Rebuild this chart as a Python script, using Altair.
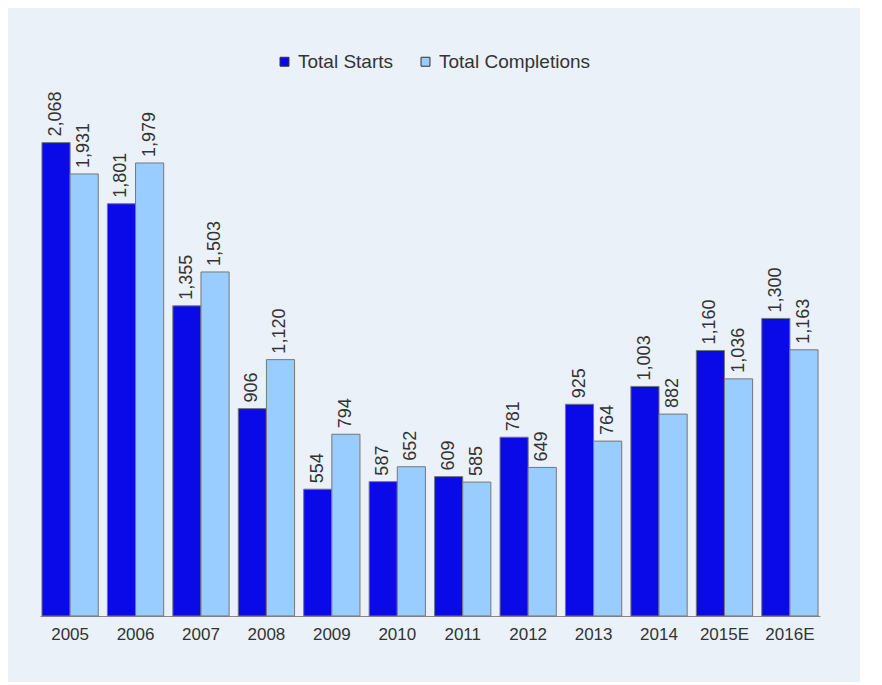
import altair as alt
import pandas as pd

years = ["2005", "2006", "2007", "2008", "2009", "2010", "2011", "2012", "2013", "2014", "2015E", "2016E"]
starts = [2068, 1801, 1355, 906, 554, 587, 609, 781, 925, 1003, 1160, 1300]
completions = [1931, 1979, 1503, 1120, 794, 652, 585, 649, 764, 882, 1036, 1163]

rows = []
for y, s, c in zip(years, starts, completions):
    rows.append({"year": y, "series": "Total Starts", "value": s, "label": f"{s:,}"})
    rows.append({"year": y, "series": "Total Completions", "value": c, "label": f"{c:,}"})
df = pd.DataFrame(rows)

order = ["Total Starts", "Total Completions"]
x = alt.X("year:N", sort=years, title=None,
          scale=alt.Scale(paddingInner=0.14, paddingOuter=0.03),
          axis=alt.Axis(labelAngle=0, labelFontSize=17, labelColor="#333", ticks=False,
                        domainColor="#888", labelPadding=10, labelFont="Liberation Sans"))
y = alt.Y("value:Q", scale=alt.Scale(domain=[0, 2560]), axis=None)
xo = alt.XOffset("series:N", sort=order)

base = alt.Chart(df).encode(x=x, y=y, xOffset=xo)

bars = base.mark_bar(stroke="#777", strokeWidth=1).encode(
    color=alt.Color("series:N", sort=order,
                    scale=alt.Scale(domain=order, range=["#0a0ae8", "#99ccff"]),
                    legend=alt.Legend(title=None, orient="none", legendX=235, legendY=22,
                                      direction="horizontal", symbolType="square",
                                      symbolSize=80, symbolStrokeColor="#333",
                                      symbolStrokeWidth=1, labelFontSize=19,
                                      labelColor="#333", columnPadding=22,
                                      labelFont="Liberation Sans"))
)

labels = base.mark_text(angle=270, align="left", baseline="middle", dx=6,
                        fontSize=18, color="#333", font="Liberation Sans").encode(text="label:N")

chart = (
    (bars + labels)
    .properties(width=780, height=586, padding={"left": 32, "top": 22, "right": 40, "bottom": 40},
                background="#eaf1f8")
    .configure_view(stroke=None)
)

chart.save("out.html", embed_options={"renderer": "svg", "actions": False})
